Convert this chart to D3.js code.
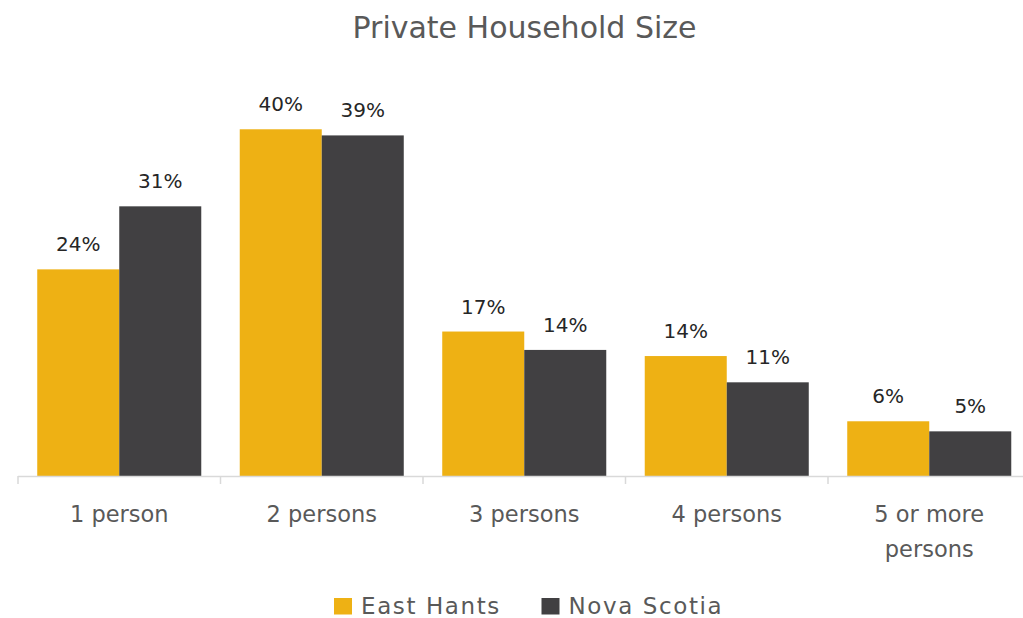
<!DOCTYPE html>
<html><head><meta charset="utf-8">
<script src="https://cdn.jsdelivr.net/npm/d3@7"></script>
<style>body{margin:0;background:#fff}svg{display:block}</style>
</head><body>
<svg id="c" width="1023" height="618"></svg>
<script>
const categories = ["1 person", "2 persons", "3 persons", "4 persons", "5 or more persons"];
const seriesNames = ["East Hants", "Nova Scotia"];
const eastHants = [23.6, 39.6, 16.5, 13.7, 6.25];
const novaScotia = [30.8, 38.9, 14.4, 10.7, 5.1];
const colors = ["#EEB114", "#414042"];
const FONT = "'DejaVu Sans', sans-serif";

const svg = d3.select("#c");
const x0 = d3.scaleBand().domain(categories).range([18, 1030.5]).paddingInner(0.19).paddingOuter(0.095);
const x1 = d3.scaleBand().domain(seriesNames).range([0, x0.bandwidth()]);
const y = d3.scaleLinear().domain([0, 45]).range([476, 82]);

svg.append("text").attr("x", 524.5).attr("y", 38).attr("text-anchor", "middle")
  .attr("font-family", FONT).attr("font-size", 30).attr("fill", "#595959").text("Private Household Size");

const data = categories.map((c, i) => ({c, vals: [eastHants[i], novaScotia[i]]}));
const g = svg.append("g");
const groups = g.selectAll("g.cat").data(data).join("g").attr("transform", d => `translate(${x0(d.c)},0)`);
groups.selectAll("rect").data(d => d.vals.map((v, j) => ({v, s: seriesNames[j], j})))
  .join("rect").attr("x", d => x1(d.s)).attr("width", x1.bandwidth())
  .attr("y", d => y(d.v)).attr("height", d => y(0) - y(d.v)).attr("fill", d => colors[d.j]);
groups.selectAll("text.val").data(d => d.vals.map((v, j) => ({v, s: seriesNames[j]})))
  .join("text").attr("class", "val").attr("x", d => x1(d.s) + x1.bandwidth() / 2)
  .attr("y", d => y(d.v) - 18).attr("text-anchor", "middle")
  .attr("font-family", FONT).attr("font-size", 20).attr("fill", "#262626")
  .text(d => Math.round(d.v) + "%");

// axis
const axisG = svg.append("g").attr("transform", `translate(0,${y(0)})`);
axisG.append("line").attr("x1", 18).attr("x2", 1030).attr("y1", 0.5).attr("y2", 0.5).attr("stroke", "#D9D9D9").attr("stroke-width", 1.5);
const step = x0.step();
const tickXs = d3.range(categories.length + 1).map(i => x0(categories[0]) - x0.paddingOuter() * step + i * step);
axisG.selectAll("line.tick").data(tickXs).join("line").attr("class", "tick")
  .attr("x1", d => d).attr("x2", d => d).attr("y1", 0).attr("y2", 8).attr("stroke", "#D9D9D9").attr("stroke-width", 1.5);

const labelLines = {"5 or more persons": ["5 or more", "persons"]};
categories.forEach(c => {
  const lines = labelLines[c] || [c];
  const t = svg.append("text").attr("text-anchor", "middle").attr("font-family", FONT).attr("font-size", 22.5).attr("fill", "#595959");
  lines.forEach((l, i) => t.append("tspan").attr("x", x0(c) + x0.bandwidth() / 2).attr("y", 522 + i * 35).text(l));
});

// legend
const legend = svg.append("g");
const legX = [334, 541.5];
seriesNames.forEach((s, i) => {
  legend.append("rect").attr("x", legX[i]).attr("y", 598).attr("width", 18).attr("height", 16.5).attr("fill", colors[i]);
  legend.append("text").attr("x", legX[i] + 27).attr("y", 614).attr("font-family", FONT).attr("font-size", 23)
    .attr("letter-spacing", 1.6).attr("fill", "#595959").text(s);
});
</script>
</body></html>
